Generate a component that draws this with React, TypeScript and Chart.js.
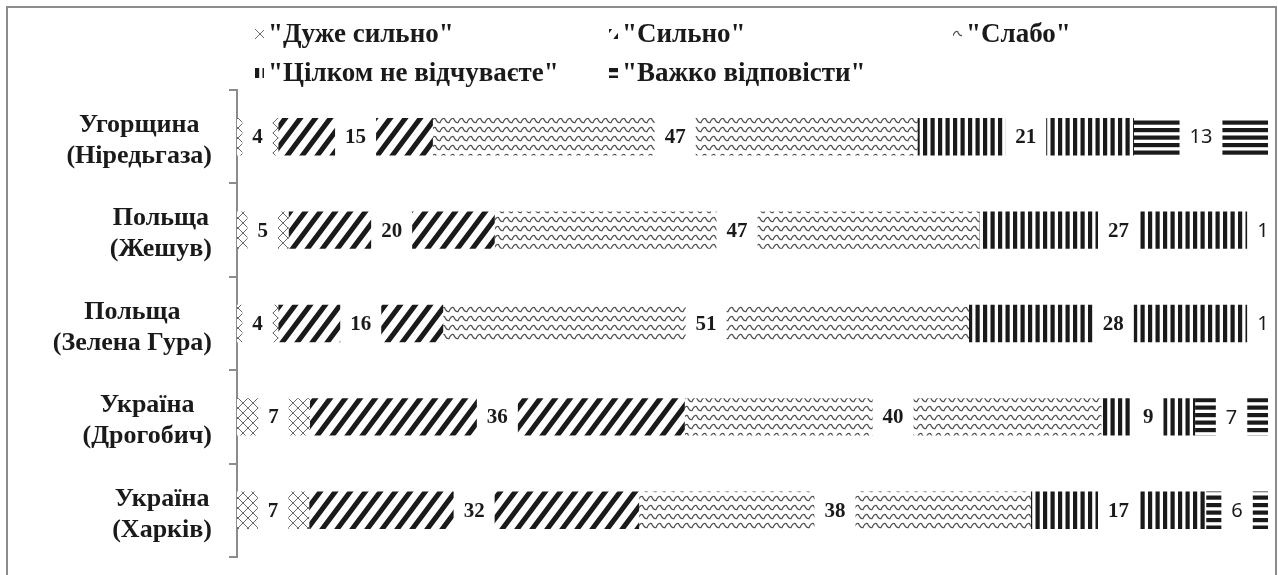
import React, { useEffect, useRef } from "react";
import { Chart, registerables } from "chart.js";

Chart.register(...registerables);

const CATEGORIES: string[][] = [
  ["Угорщина", "(Ніредьгаза)"],
  ["Польща", "(Жешув)"],
  ["Польща", "(Зелена Гура)"],
  ["Україна", "(Дрогобич)"],
  ["Україна", "(Харків)"],
];
const SERIES_NAMES = [
  '"Дуже сильно"',
  '"Сильно"',
  '"Слабо"',
  '"Цілком не відчуваєте"',
  '"Важко відповісти"',
];
const VERY_STRONG = [4, 5, 4, 7, 7];
const STRONG = [15, 20, 16, 36, 32];
const WEAK = [47, 47, 51, 40, 38];
const NOT_AT_ALL = [21, 27, 28, 9, 17];
const HARD_TO_SAY = [13, 1, 1, 7, 6];
const SERIES_VALUES = [VERY_STRONG, STRONG, WEAK, NOT_AT_ALL, HARD_TO_SAY];

// legend layout (canvas coordinates): [markerX, centerY]
const LEGEND_LAYOUT = [
  [247, 26],
  [601, 26],
  [945, 26],
  [247, 65],
  [601, 65],
];

const INK = "#1a1a1a";
const AXIS = "#8c8c8c";
const SERIF = '"Liberation Serif", "Times New Roman", serif';

function tile(w: number, h: number, draw: (g: CanvasRenderingContext2D) => void) {
  const c = document.createElement("canvas");
  c.width = w;
  c.height = h;
  const g = c.getContext("2d")!;
  g.fillStyle = "#fff";
  g.fillRect(0, 0, w, h);
  draw(g);
  return c;
}

function makeTiles() {
  const diamond = tile(10, 10, (g) => {
    g.strokeStyle = "#6a6a6a";
    g.lineWidth = 1;
    g.beginPath();
    g.moveTo(0, 0);
    g.lineTo(10, 10);
    g.moveTo(10, 0);
    g.lineTo(0, 10);
    g.stroke();
  });
  const W = 15, H = 20;
  const diag = tile(W, H, (g) => {
    g.strokeStyle = INK;
    g.lineWidth = 5;
    g.beginPath();
    for (let k = 0; k <= 2; k++) {
      g.moveTo(k * W + W, -H);
      g.lineTo(k * W - 2 * W, 2 * H);
    }
    g.stroke();
  });
  const wave = tile(9, 9, (g) => {
    g.strokeStyle = "#505050";
    g.lineWidth = 1.3;
    const y = 4.5;
    g.beginPath();
    g.moveTo(-1, y + 2);
    g.lineTo(0, y + 2);
    g.quadraticCurveTo(2.25, y - 3, 4.5, y - 2);
    g.quadraticCurveTo(6.75, y + 3, 9, y + 2);
    g.lineTo(10, y + 1);
    g.stroke();
  });
  const vert = tile(15, 15, (g) => {
    g.fillStyle = INK;
    g.fillRect(0, 0, 4.2, 15);
    g.fillRect(7.5, 0, 4.2, 15);
  });
  const horiz = tile(15, 15, (g) => {
    g.fillStyle = INK;
    g.fillRect(0, 0, 15, 4.2);
    g.fillRect(0, 7.5, 15, 4.2);
  });
  return [diamond, diag, wave, vert, horiz];
}

export default function App() {
  const ref = useRef<HTMLCanvasElement>(null);

  useEffect(() => {
    const canvas = ref.current!;
    const ctx2 = canvas.getContext("2d")!;
    const tiles = makeTiles();
    const patterns = tiles.map((t) => ctx2.createPattern(t, "repeat")!);

    const rowSums = CATEGORIES.map((_, i) =>
      SERIES_VALUES.reduce((s, arr) => s + arr[i], 0)
    );

    const datasets = SERIES_NAMES.map((name, di) => ({
      label: name,
      data: SERIES_VALUES[di].map((v, i) => (v / rowSums[i]) * 100),
      backgroundColor: patterns[di] as any,
      borderWidth: 0,
      categoryPercentage: 0.8,
      barPercentage: 0.5,
    }));

    const customPlugin = {
      id: "custom",
      afterDatasetsDraw(chart: any) {
        const ctx: CanvasRenderingContext2D = chart.ctx;
        ctx.save();
        chart.data.datasets.forEach((_: any, di: number) => {
          const meta = chart.getDatasetMeta(di);
          meta.data.forEach((bar: any, i: number) => {
            const p = bar.getProps(["x", "y", "base", "height"], true);
            const cx = (p.x + p.base) / 2;
            const txt = String(SERIES_VALUES[di][i]);
            ctx.font =
              di === 4 ? '20px "Noto Sans", sans-serif' : `bold 21px ${SERIF}`;
            const tw = ctx.measureText(txt).width;
            const bw = tw + 20;
            ctx.fillStyle = "#fff";
            ctx.fillRect(cx - bw / 2, p.y - p.height / 2 - 1, bw, p.height + 2);
            ctx.fillStyle = INK;
            ctx.textAlign = "center";
            ctx.textBaseline = "middle";
            ctx.fillText(txt, cx, p.y + 1);
          });
        });
        ctx.restore();
      },
      afterDraw(chart: any) {
        const ctx: CanvasRenderingContext2D = chart.ctx;
        ctx.save();
        // category labels
        const ys = chart.scales.y;
        ctx.font = `bold 26px ${SERIF}`;
        ctx.fillStyle = INK;
        ctx.textBaseline = "middle";
        ctx.textAlign = "center";
        const blockRight = 204;
        const lineH = 31;
        CATEGORIES.forEach((lines, i) => {
          const cy = ys.getPixelForTick(i) + 4;
          const bw = Math.max(...lines.map((l) => ctx.measureText(l).width));
          const cx = blockRight - bw / 2;
          lines.forEach((l, li) => {
            const y = cy + (li - (lines.length - 1) / 2) * lineH;
            ctx.fillText(l, cx, y);
          });
        });
        // legend
        ctx.font = `bold 27px ${SERIF}`;
        ctx.textAlign = "left";
        SERIES_NAMES.forEach((name, di) => {
          const [mx, my] = LEGEND_LAYOUT[di];
          const pat = ctx.createPattern(tiles[di], "repeat")!;
          pat.setTransform(new DOMMatrix().translate(mx, my - 5));
          ctx.fillStyle = pat;
          ctx.fillRect(mx, my - 5, 9, 10);
          ctx.fillStyle = INK;
          ctx.fillText(name, mx + 13, my + 1);
        });
        ctx.restore();
      },
    };

    const chart = new Chart(canvas, {
      type: "bar",
      data: { labels: CATEGORIES.map((c) => c.join(" ")), datasets },
      options: {
        indexAxis: "y",
        animation: false,
        responsive: true,
        maintainAspectRatio: false,
        layout: { padding: { left: 0, right: 7, top: 82, bottom: 18 } },
        plugins: { legend: { display: false }, tooltip: { enabled: false } },
        scales: {
          x: { stacked: true, min: 0, max: 100, display: false },
          y: {
            stacked: true,
            offset: true,
            ticks: { display: false },
            grid: {
              offset: true,
              drawOnChartArea: false,
              drawTicks: true,
              tickLength: 8,
              color: AXIS,
              lineWidth: 2,
            },
            border: { display: true, color: AXIS, width: 2 },
            afterFit: (scale: any) => {
              scale.width = 229;
            },
          },
        },
      },
      plugins: [customPlugin],
    });
    return () => chart.destroy();
  }, []);

  return (
    <div
      style={{
        position: "absolute",
        left: 6,
        top: 6,
        width: 1271,
        height: 569,
        borderTop: `2px solid ${AXIS}`,
        borderLeft: `2px solid ${AXIS}`,
        borderRight: `2px solid ${AXIS}`,
        boxSizing: "border-box",
        background: "#fff",
      }}
    >
      <div style={{ position: "relative", width: 1267, height: 567 }}>
        <canvas ref={ref} />
      </div>
    </div>
  );
}
